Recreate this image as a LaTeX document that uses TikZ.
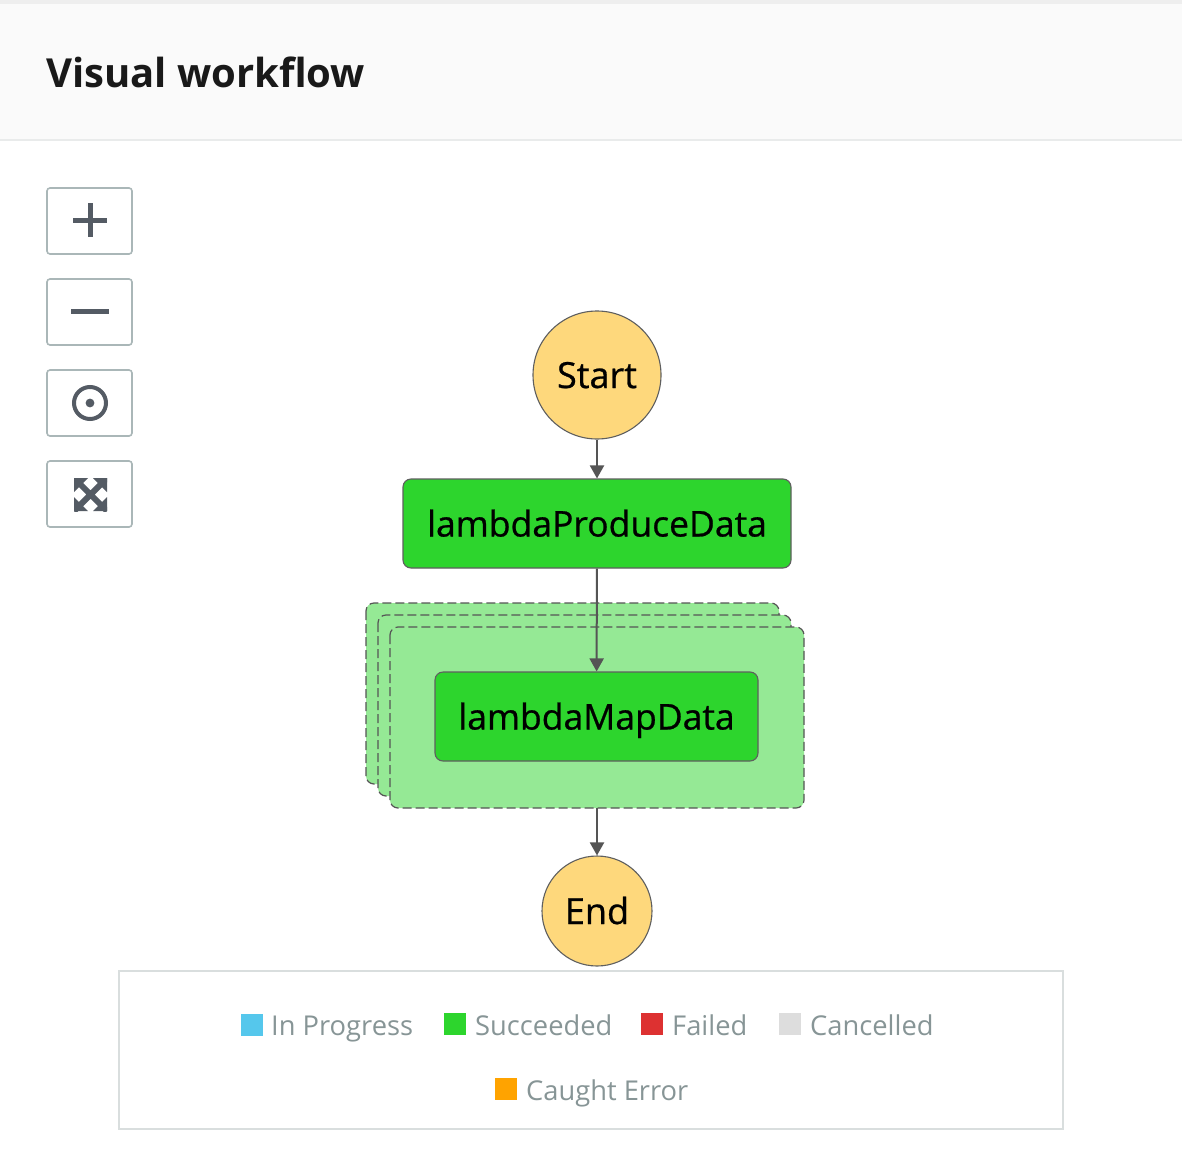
\documentclass[tikz,border=0pt]{standalone}
\usepackage{fontspec}
\setmainfont{Open Sans}
\newfontfamily\statefont[FakeBold=0.7]{Open Sans}
\usetikzlibrary{arrows.meta,shapes.geometric}

\definecolor{headerbg}{HTML}{FAFAFA}
\definecolor{headerline}{HTML}{E9EBEB}
\definecolor{topband}{HTML}{EEEEEE}
\definecolor{btnborder}{HTML}{AAB7B8}
\definecolor{icon}{HTML}{545B64}
\definecolor{terminal}{HTML}{FED87C}
\definecolor{okgreen}{HTML}{2DD52D}
\definecolor{mapgreen}{HTML}{95E995}
\definecolor{edge}{HTML}{555555}
\definecolor{nodeborder}{HTML}{5F5F5F}
\definecolor{legendline}{HTML}{D9DEDE}
\definecolor{legendtext}{HTML}{879596}
\definecolor{progress}{HTML}{55C7EC}
\definecolor{failed}{HTML}{DD3131}
\definecolor{cancelled}{HTML}{DDDDDD}
\definecolor{caught}{HTML}{FFA300}

\tikzset{
  btn/.style={draw=btnborder, line width=1.6pt, rounded corners=3pt, fill=white},
  terminalnode/.style={circle, draw=nodeborder, line width=1.1pt, fill=terminal,
    inner sep=0pt, text height=26pt, text depth=0pt,
    font=\statefont\fontsize{36}{40}\selectfont},
  tasknode/.style={rectangle, draw=nodeborder, line width=1.1pt, fill=okgreen,
    rounded corners=8pt, inner sep=0pt, text height=26pt, text depth=0pt,
    font=\statefont\fontsize{35.5}{40}\selectfont},
  mapframe/.style={draw=edge, line width=1.2pt, dash pattern=on 9pt off 4pt,
    fill=mapgreen, rounded corners=8pt},
  flow/.style={draw=edge, line width=2pt, -{Triangle[length=13pt,width=14pt]}},
  swatch/.style={rectangle, inner sep=0pt, minimum width=22pt, minimum height=22pt},
  legendlabel/.style={anchor=base west, text=legendtext, inner sep=0pt,
    font=\fontsize{27.3}{32}\selectfont},
}

\begin{document}
\begin{tikzpicture}[x=1pt, y=-1pt]
  \useasboundingbox (0,0) rectangle (1182,1172);
  \fill[white] (0,0) rectangle (1182,1172);

  % page header
  \fill[topband] (0,0) rectangle (1182,4);
  \fill[headerbg] (0,4) rectangle (1182,139);
  \fill[headerline] (0,138.5) rectangle (1182,141);
  \node[anchor=base west, inner sep=0pt, font=\fontsize{40}{46}\selectfont\bfseries,
        text=black!90] (title) at (46,87) {Visual workflow};

  % zoom controls
  \draw[btn] (47,188) rectangle (132,254);
  \draw[btn] (47,279) rectangle (132,345);
  \draw[btn] (47,370) rectangle (132,436);
  \draw[btn] (47,461) rectangle (132,527);
  \draw[icon, line width=5pt] (73,220) -- (107,220) (90,203) -- (90,237);
  \draw[icon, line width=5pt] (71,311) -- (109,311);
  \draw[icon, line width=4pt] (90,403) circle (16);
  \fill[icon] (90,403) circle (4.4);
  \begin{scope}
    \clip (74,478) rectangle (107,511);
    \draw[icon, line width=6pt] (74,478) -- (107,511) (107,478) -- (74,511);
  \end{scope}
  \fill[icon] (74,478) -- (88,478) -- (74,492) -- cycle;
  \fill[icon] (107,478) -- (93,478) -- (107,492) -- cycle;
  \fill[icon] (74,511) -- (88,511) -- (74,497) -- cycle;
  \fill[icon] (107,511) -- (93,511) -- (107,497) -- cycle;

  % map state: stacked iteration frames
  \path[mapframe] (366,603) rectangle (779,784);
  \path[mapframe] (378,615) rectangle (791,796);
  \path[mapframe] (390,627) rectangle (804,808);
  \coordinate (mapbottom) at (597,808);

  % workflow states
  \node[terminalnode, minimum size=128pt] (start) at (597,375) {Start};
  \node[tasknode, minimum width=388pt, minimum height=89pt] (produce) at (597,523.5) {lambdaProduceData};
  \node[tasknode, minimum width=323pt, minimum height=89pt] (mapdata) at (596.5,716.5) {lambdaMapData};
  \node[terminalnode, minimum size=110pt] (end) at (597,911) {End};

  % transitions
  \draw[flow] (start) -- (produce);
  \draw[flow] (produce) -- (mapdata);
  \draw[flow] (mapbottom) -- (end);

  % legend
  \draw[legendline, line width=2pt] (119,971) rectangle (1063,1129);
  \node[swatch, fill=progress] (sw1) at (252,1025) {};
  \node[legendlabel] (lb1) at (271,1035) {In Progress};
  \node[swatch, fill=okgreen] (sw2) at (455,1024) {};
  \node[legendlabel] (lb2) at (475,1035) {Succeeded};
  \node[swatch, fill=failed] (sw3) at (652,1024) {};
  \node[legendlabel] (lb3) at (672,1035) {Failed};
  \node[swatch, fill=cancelled] (sw4) at (790,1024) {};
  \node[legendlabel] (lb4) at (810,1035) {Cancelled};
  \node[swatch, fill=caught] (sw5) at (505.5,1089) {};
  \node[legendlabel] (lb5) at (526,1100) {Caught Error};
\end{tikzpicture}
\end{document}
